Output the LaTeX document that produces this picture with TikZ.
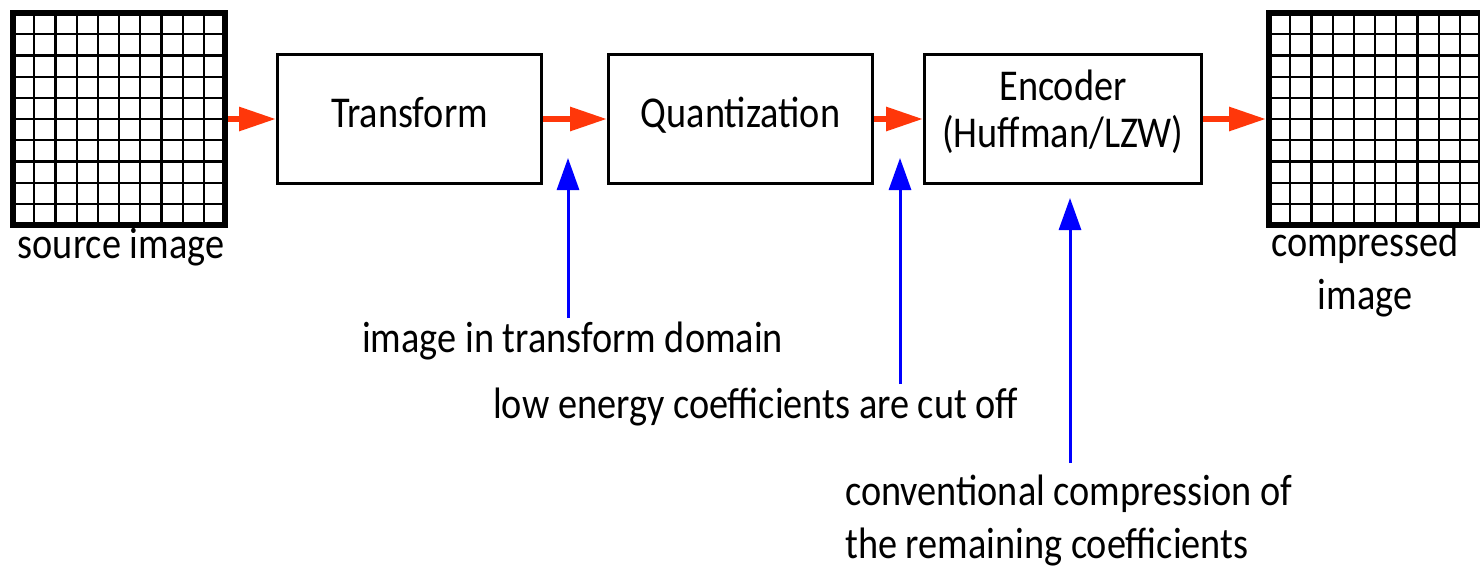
\documentclass[tikz,border=0pt]{standalone}
\usepackage{fontspec}
\setmainfont{Carlito}[FakeStretch=0.87]
\usetikzlibrary{arrows.meta}
\definecolor{flowred}{RGB}{255,55,10}
\definecolor{noteblue}{RGB}{0,0,255}
\tikzset{
  stagebox/.style={draw=black, line width=3pt, fill=white, minimum width=264pt, minimum height=129pt, inner sep=0pt, font=\fontsize{44}{47}\selectfont},
  imgframe/.style={draw=black, line width=6pt, minimum width=212pt, minimum height=212pt, inner sep=0pt},
  gridline/.style={draw=black, line width=2.2pt},
  flow/.style={draw=flowred, line width=6pt, -{Triangle[length=37pt,width=23pt]}},
  note/.style={draw=noteblue, line width=3pt, -{Triangle[length=32pt,width=22pt]}},
  lbl/.style={inner sep=0pt, font=\fontsize{44}{53}\selectfont}
}
\begin{document}
\begin{tikzpicture}[x=1pt,y=-1pt]
\fill[white] (0,0) rectangle (1480,568);
\useasboundingbox (0,0) rectangle (1480,568);
% source image grid
\foreach \i in {1,...,9} {
  \draw[gridline] (13+21.2*\i,13) -- (13+21.2*\i,225);
  \draw[gridline] (13,13+21.2*\i) -- (225,13+21.2*\i);
}
\node[imgframe] (src) at (119,119) {};
% compressed image grid
\begin{scope}
\clip (0,0) rectangle (1480,568);
\foreach \i in {1,...,9} {
  \draw[gridline] (1269+21.2*\i,13) -- (1269+21.2*\i,225);
  \draw[gridline] (1269,13+21.2*\i) -- (1481,13+21.2*\i);
}
\node[imgframe] (dst) at (1375,119) {};
\end{scope}
% stages
\node[stagebox] (tr) at (409.5,119) {\raisebox{-8pt}[0pt][0pt]{Transform}};
\node[stagebox] (qu) at (740.5,119) {\raisebox{-8pt}[0pt][0pt]{Quantization}};
\node[stagebox, minimum width=277pt] (en) at (1063,119) {\raisebox{-28pt}[0pt][0pt]{\begin{tabular}[b]{@{}c@{}}Encoder\\(Huffman/LZW)\end{tabular}}};
% flow arrows
\draw[flow] (src.east) -- (tr.west);
\draw[flow] (tr.east) -- (qu.west);
\draw[flow] (qu.east) -- (en.west);
\draw[flow] (en.east) -- (dst.west);
% labels
\node[lbl, anchor=base] (srcl) at (121,258) {source image};
\node[lbl, anchor=base, align=center] (dstl) at (1365,309) {compressed\\image};
\node[lbl, anchor=base west] (n1) at (362,352) {image in transform domain};
\node[lbl, anchor=base west] (n2) at (493,418) {low energy coefficients are cut off};
\node[lbl, anchor=base west, align=left] (n3) at (845,558) {conventional compression of\\the remaining coefficients};
% annotation arrows
\coordinate (a1s) at (568,318);
\coordinate (a1e) at (568,158);
\coordinate (a2s) at (900,384);
\coordinate (a2e) at (900,158);
\coordinate (a3s) at (1070,463);
\coordinate (a3e) at (1070,198);
\draw[note] (a1s) -- (a1e);
\draw[note] (a2s) -- (a2e);
\draw[note] (a3s) -- (a3e);
\end{tikzpicture}
\end{document}
